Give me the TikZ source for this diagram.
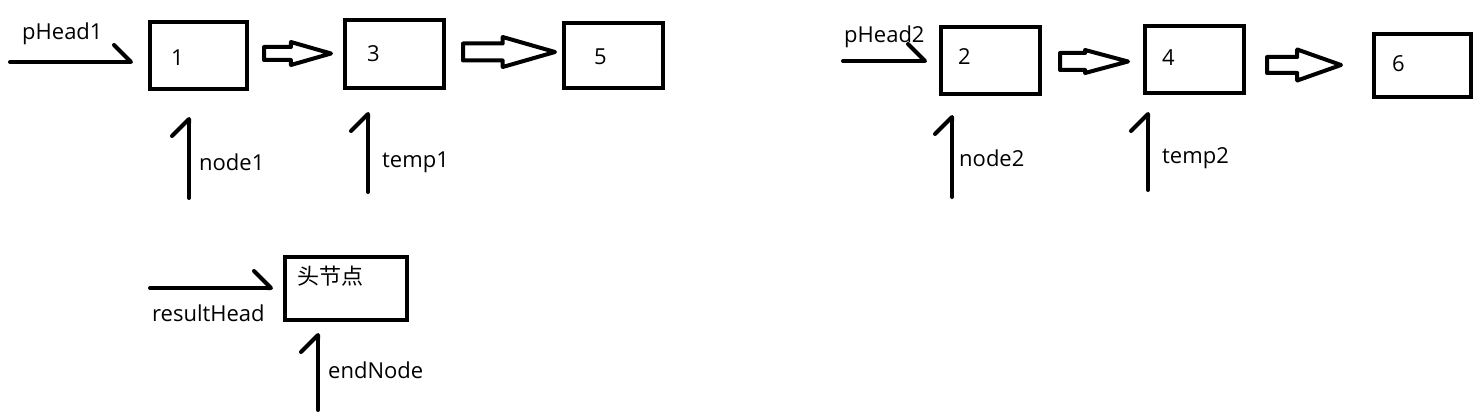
\documentclass[tikz,border=0pt]{standalone}
\usepackage{fontspec}
\setmainfont{Open Sans}
\newfontfamily\cjk{Noto Sans CJK SC}
\usetikzlibrary{positioning,arrows.meta,shapes.arrows}

\begin{document}
\begin{tikzpicture}[
		x=1pt, y=-1pt,
		font=\fontsize{22}{26}\selectfont,
		box/.style = {draw, line width=4pt, inner sep=0pt, outer sep=0pt, minimum width=99pt, minimum height=67pt},
		hollow/.style = {draw, line width=4pt, line join=round, single arrow, inner xsep=0pt, outer sep=0pt, single arrow head indent=0pt},
		ptr/.style = {line width=4pt, line cap=round, -{Straight Barb[harpoon, round, length=17pt, width=34pt]}},
		txt/.style = {inner sep=0pt, anchor=base west}
	]
	\useasboundingbox (0,0) rectangle (1480,412);
	% List 1.
	\node[box, minimum width=97pt] (b1) at (198.5,55.5) {};
	\node[box, minimum height=68pt] (b3) at (394.5,54) {};
	\node[box, minimum height=65pt] (b5) at (613.5,55.5) {};
	\node[txt] at (171,66) {1};
	\node[txt] at (367,62) {3};
	\node[txt] at (594,65) {5};
	\node[hollow, right=17pt of b1, yshift=2pt, minimum height=67pt, inner ysep=4.5pt, single arrow head extend=5pt, single arrow tip angle=32] (a13) {};
	\node[hollow, right=19pt of b3, yshift=2pt, minimum height=92pt, inner ysep=6.5pt, single arrow head extend=6.5pt, single arrow tip angle=32] (a35) {};
	% List 2.
	\node[box] (b2) at (990.5,60.5) {};
	\node[box] (b4) at (1194.5,59.5) {};
	\node[box, minimum width=97pt, minimum height=63pt] (b6) at (1422.5,65.5) {};
	\node[txt] at (958,65) {2};
	\node[txt] at (1162,66) {4};
	\node[txt] at (1392,71) {6};
	\node[hollow, right=20pt of b2, yshift=-1pt, minimum height=68pt, inner ysep=6.5pt, single arrow head extend=3pt, single arrow tip angle=30] (a24) {};
	\node[hollow, right=23pt of b4, yshift=-5.5pt, minimum height=74pt, inner ysep=6pt, single arrow head extend=7.5pt, single arrow tip angle=39] (a46) {};
	% Result list.
	\node[box, minimum width=122pt, minimum height=63pt] (bh) at (346,288.5) {};
	\node[txt] at (297,284) {\cjk 头节点};
	% Pointers.
	\coordinate (ph1) at (10,62);
	\coordinate (pn1) at (189,198);
	\coordinate (pt1) at (368,192);
	\coordinate (ph2) at (843,61);
	\coordinate (pn2) at (952,197);
	\coordinate (pt2) at (1148,190);
	\coordinate (prh) at (150,288);
	\coordinate (pen) at (318,410);
	\draw[ptr, shorten >=17pt] (ph1) -- (ph1 -| b1.west);
	\draw[ptr, shorten >=28pt] (pn1) -- (pn1 |- b1.south);
	\draw[ptr, shorten >=24pt] (pt1) -- (pt1 |- b3.south);
	\draw[ptr, shorten >=14pt] (ph2) -- (ph2 -| b2.west);
	\draw[ptr, shorten >=21pt] (pn2) -- (pn2 |- b2.south);
	\draw[ptr, shorten >=19pt] (pt2) -- (pt2 |- b4.south);
	\draw[ptr, shorten >=12pt] (prh) -- (prh -| bh.west);
	\draw[ptr, shorten >=13pt] (pen) -- (pen |- bh.south);
	% Labels.
	\node[txt] at (22,39.5) {pHead1};
	\node[txt] at (199,170.5) {node1};
	\node[txt] at (382,167) {temp1};
	\node[txt] at (844,43) {pHead2};
	\node[txt] at (959,166) {node2};
	\node[txt] at (1162,163) {temp2};
	\node[txt] at (152,321) {resultHead};
	\node[txt] at (328,378) {endNode};
\end{tikzpicture}
\end{document}
